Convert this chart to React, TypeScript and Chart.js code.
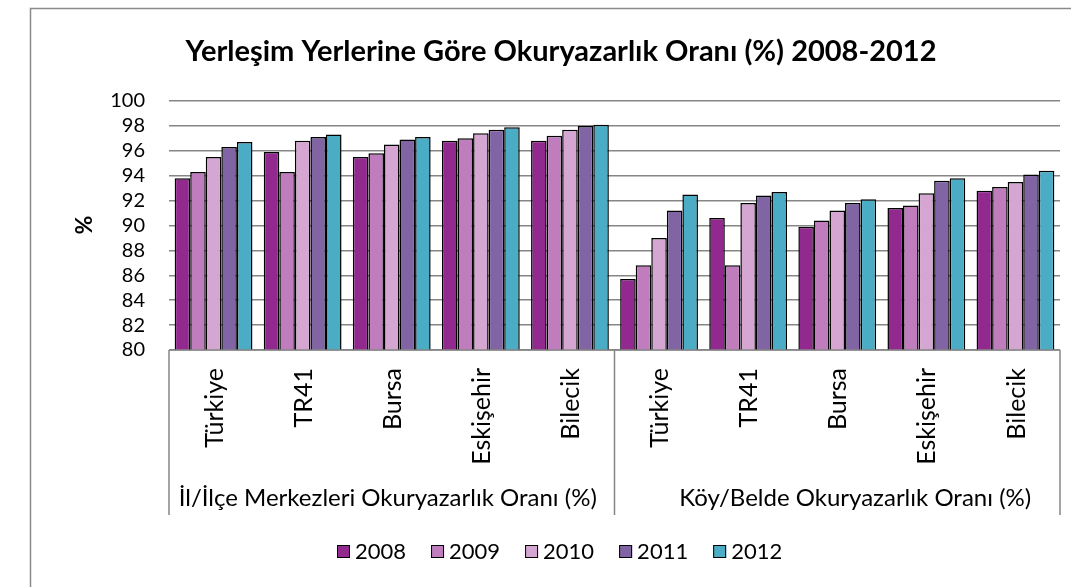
import React, { useEffect, useRef } from "react";
import { Chart, registerables } from "chart.js";

Chart.register(...registerables);

const chartTitle = "Yerleşim Yerlerine Göre Okuryazarlık Oranı (%) 2008-2012";
const yAxisTitle = "%";
const cities = ["Türkiye", "TR41", "Bursa", "Eskişehir", "Bilecik"];
const groups = [
  "İl/İlçe Merkezleri Okuryazarlık Oranı (%)",
  "Köy/Belde Okuryazarlık Oranı (%)",
];
const years = ["2008", "2009", "2010", "2011", "2012"];

// first five values: İl/İlçe merkezleri, last five: Köy/Belde
const y2008 = [93.8, 95.9, 95.5, 96.8, 96.8, 85.7, 90.6, 89.9, 91.4, 92.8];
const y2009 = [94.3, 94.3, 95.8, 97.0, 97.2, 86.8, 86.8, 90.4, 91.6, 93.1];
const y2010 = [95.5, 96.8, 96.5, 97.4, 97.7, 89.0, 91.8, 91.2, 92.6, 93.5];
const y2011 = [96.3, 97.1, 96.9, 97.7, 98.0, 91.2, 92.4, 91.8, 93.6, 94.1];
const y2012 = [96.7, 97.3, 97.1, 97.9, 98.1, 92.5, 92.7, 92.1, 93.8, 94.4];

const yMin = 80;
const yMax = 100;
const yStep = 2;

const seriesValues = [y2008, y2009, y2010, y2011, y2012];
const seriesColors = ["#92298F", "#C07DBD", "#D5A6D2", "#8064A3", "#4BACC6"];

const FONT = "Lato, 'Open Sans', sans-serif";
const GRAY = "#868686";
const groupLabelShift = [-4, 18];

const decorPlugin = {
  id: "decor",
  beforeDraw(chart: any) {
    const ctx = chart.ctx;
    ctx.save();
    ctx.strokeStyle = "#8a8a8a";
    ctx.lineWidth = 1.5;
    ctx.strokeRect(30.5, 8.5, 2000, 2000);
    ctx.restore();
  },
  afterDraw(chart: any) {
    const ctx = chart.ctx;
    const xs = chart.scales.x;
    const area = chart.chartArea;
    ctx.save();

    // title
    ctx.fillStyle = "#000";
    ctx.font = `bold 29px ${FONT}`;
    ctx.textAlign = "center";
    ctx.textBaseline = "middle";
    ctx.fillText(chartTitle, 561, 52);

    // y axis title
    ctx.save();
    ctx.translate(85, 225);
    ctx.rotate(-Math.PI / 2);
    ctx.font = `bold 23px ${FONT}`;
    ctx.fillText(yAxisTitle, 0, 0);
    ctx.restore();

    // x axis line and group dividers
    const n = cities.length;
    const bounds: number[] = [area.left];
    for (let g = 1; g < groups.length; g++) {
      const a = xs.getPixelForValue(g * n - 1);
      const b = xs.getPixelForValue(g * n);
      bounds.push((a + b) / 2);
    }
    bounds.push(area.right);
    ctx.strokeStyle = GRAY;
    ctx.lineWidth = 1.5;
    ctx.beginPath();
    ctx.moveTo(area.left, area.bottom);
    ctx.lineTo(area.right, area.bottom);
    for (const bx of bounds) {
      ctx.moveTo(bx, area.bottom);
      ctx.lineTo(bx, 515);
    }
    ctx.stroke();

    // city labels (rotated)
    ctx.font = `25px ${FONT}`;
    ctx.fillStyle = "#000";
    for (let i = 0; i < n * groups.length; i++) {
      const px = xs.getPixelForValue(i);
      ctx.save();
      ctx.translate(px + 1, 368);
      ctx.rotate(-Math.PI / 2);
      ctx.textAlign = "right";
      ctx.textBaseline = "middle";
      ctx.fillText(cities[i % n], 0, 0);
      ctx.restore();
    }

    // group labels
    ctx.font = `24px ${FONT}`;
    ctx.textAlign = "center";
    ctx.textBaseline = "middle";
    for (let g = 0; g < groups.length; g++) {
      ctx.fillText(groups[g], (bounds[g] + bounds[g + 1]) / 2 + groupLabelShift[g], 498);
    }

    // legend
    ctx.font = `22px ${FONT}`;
    ctx.textAlign = "left";
    let lx = 337;
    const ly = 551;
    for (let i = 0; i < years.length; i++) {
      ctx.fillStyle = seriesColors[i];
      ctx.fillRect(lx, ly - 6, 13, 13);
      ctx.strokeStyle = "#000";
      ctx.lineWidth = 1;
      ctx.strokeRect(lx + 0.5, ly - 5.5, 12, 12);
      ctx.fillStyle = "#000";
      ctx.fillText(years[i], lx + 18, ly + 1);
      lx += 18 + ctx.measureText(years[i]).width + 25;
    }
    ctx.restore();
  },
};

export default function App() {
  const ref = useRef<HTMLCanvasElement | null>(null);
  useEffect(() => {
    if (!ref.current) return;
    const labels = groups.flatMap(() => cities);
    const chart = new Chart(ref.current, {
      type: "bar",
      data: {
        labels,
        datasets: years.map((yr, i) => ({
          label: yr,
          data: seriesValues[i],
          backgroundColor: seriesColors[i],
          borderColor: "#000",
          borderWidth: 1.5,
          barPercentage: 1,
          categoryPercentage: 0.873,
        })),
      },
      options: {
        responsive: false,
        animation: false,
        layout: { padding: { left: 0, right: 11, top: 101, bottom: 0 } },
        plugins: {
          legend: { display: false },
          title: { display: false },
          tooltip: { enabled: false },
        },
        scales: {
          x: {
            grid: { display: false },
            border: { display: false },
            ticks: { display: false },
            afterFit: (s: any) => {
              s.height = 237;
            },
          },
          y: {
            min: yMin,
            max: yMax,
            ticks: {
              stepSize: yStep,
              autoSkip: false,
              color: "#000",
              padding: 24,
              font: { family: FONT, size: 20 },
            },
            grid: { color: GRAY, lineWidth: 1.5, drawTicks: false },
            border: { display: false },
            afterFit: (s: any) => {
              s.width = 169;
            },
          },
        },
      },
      plugins: [decorPlugin],
    });
    return () => chart.destroy();
  }, []);
  return (
    <div style={{ position: "absolute", left: 0, top: 0, width: 1071, height: 587 }}>
      <canvas ref={ref} width={1071} height={587} />
    </div>
  );
}
